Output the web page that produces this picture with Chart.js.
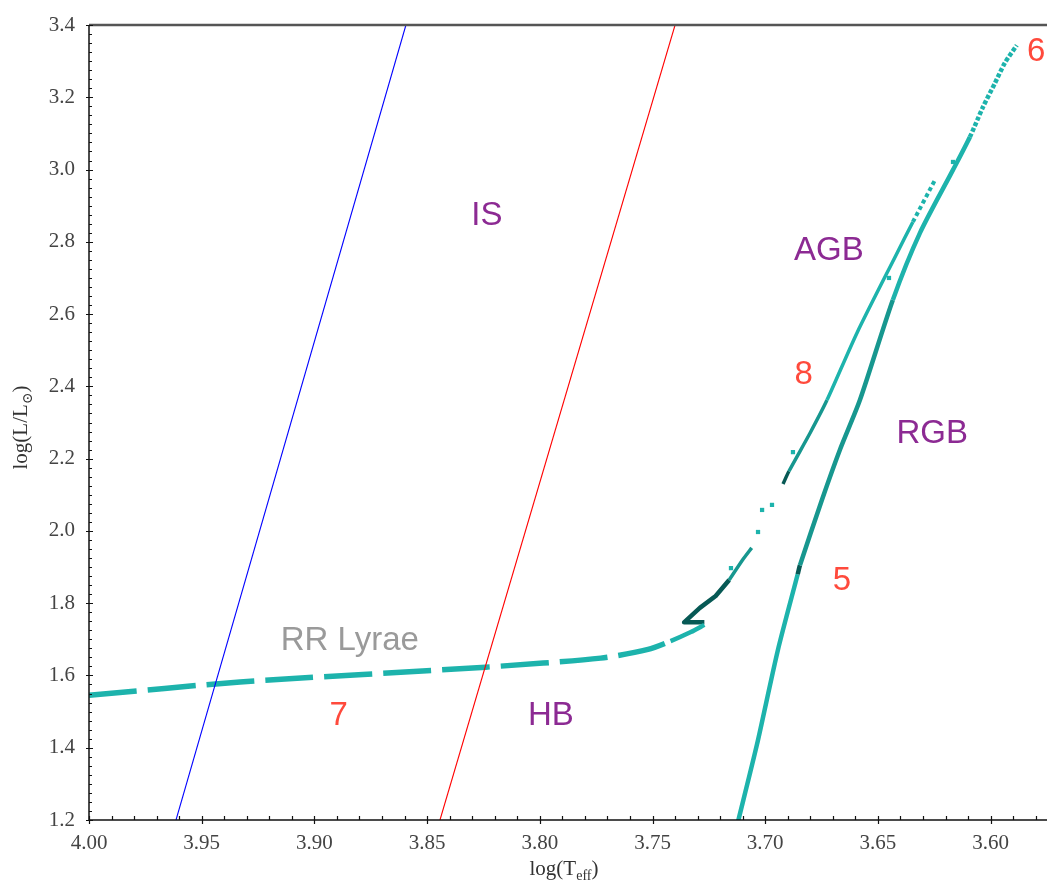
<!DOCTYPE html>
<html>
<head>
<meta charset="utf-8">
<script src="https://cdn.jsdelivr.net/npm/chart.js@4"></script>
<style>
  html, body { margin: 0; padding: 0; background: #fff; }
  canvas { display: block; }
</style>
</head>
<body>
<canvas id="hrd" width="1051" height="884"></canvas>
<script>
// Track pieces as [log(Teff), log(L/Lsun)]
const isBlueEdge = [[3.9614, 1.2], [3.8594, 3.4]];
const isRedEdge  = [[3.8443, 1.2], [3.7400, 3.4]];

const hbDashed = [[4.000, 1.545], [3.933, 1.582], [3.824, 1.623], [3.773, 1.648], [3.752, 1.672]];
const hbSolid  = [[3.742, 1.695], [3.733, 1.720], [3.727, 1.740]];
const hookDark = [[3.727, 1.747], [3.736, 1.747], [3.729, 1.787], [3.722, 1.820], [3.716, 1.864]];
const hookMid  = [[3.716, 1.864], [3.710, 1.920], [3.706, 1.953]];

const agbStart = [[3.6921, 2.130], [3.6895, 2.165]];
const agbLine  = [[3.6801, 2.271], [3.6726, 2.362], [3.6593, 2.548], [3.6420, 2.763]];
const agbDots  = [[3.6345, 2.855], [3.6247, 2.971]];

const rgbLower = [[3.7121, 1.195], [3.7037, 1.408], [3.6944, 1.670], [3.6856, 1.880]];
const rgbKnot  = [[3.6846, 1.905]];
const rgbMid   = [[3.6749, 2.085], [3.6669, 2.224], [3.6580, 2.362], [3.6434, 2.639]];
const rgbUpper = [[3.6314, 2.824], [3.6167, 2.999]];
const rgbTip   = [[3.6092, 3.090], [3.6034, 3.173], [3.5981, 3.239], [3.5937, 3.295], [3.5884, 3.344]];

const strayDots = [[3.7152, 1.897], [3.7032, 1.997], [3.7014, 2.058], [3.6970, 2.072], [3.6877, 2.218], [3.6451, 2.700], [3.6167, 3.021]];

// Labels: text, log(Teff), log(L), kind
const labelText = ['IS', 'AGB', 'RGB', 'HB', 'RR Lyrae', '5', '6', '7', '8'];
const labelT    = [3.8235, 3.6718, 3.6259, 3.7951, 3.8843, 3.6660, 3.5798, 3.8892, 3.6829];
const labelL    = [2.8796, 2.7827, 2.2764, 1.4961, 1.7036, 1.8696, 3.3334, 1.4961, 2.4396];
const labelKind = ['phase', 'phase', 'phase', 'phase', 'star', 'num', 'num', 'num', 'num'];

const TEAL = '#1db3ac';
const TEAL_MID = '#17978f';
const TEAL_DARK = '#075955';
const kindColor = { phase: '#8c2a93', star: '#9a9a9a', num: '#ff4a3c' };

function pts(arr) { return arr.map(p => ({ x: p[0], y: p[1] })); }

function track(arr, color, width, opts) {
  return Object.assign({
    data: pts(arr),
    showLine: true,
    borderColor: color,
    backgroundColor: color,
    borderWidth: width,
    borderCapStyle: 'butt',
    borderJoinStyle: 'round',
    pointRadius: 0,
    tension: 0.25
  }, opts || {});
}

// style a segment by the luminosity/temperature of its first point
const hbTrack  = hbDashed.concat(hbSolid);
const agbTrack = agbStart.concat(agbLine, agbDots);
const rgbTrack = rgbLower.concat(rgbKnot, rgbMid, rgbUpper, rgbTip);

const datasets = [
  track(isBlueEdge, '#0000ff', 1.1, { tension: 0 }),
  track(isRedEdge, '#ff0000', 1.1, { tension: 0 }),
  track(hbTrack, TEAL, 5.5, {
    segment: {
      borderDash: c => c.p0.parsed.x > 3.751 ? [48, 11] : undefined,
      borderWidth: c => c.p0.parsed.x > 3.751 ? 5.5 : 4.5
    }
  }),
  track(hookDark, TEAL_DARK, 4.5, { tension: 0 }),
  track(hookMid, TEAL_MID, 3.5, { tension: 0.2 }),
  track(agbTrack, TEAL, 3.5, {
    segment: {
      borderColor: c => c.p0.parsed.y < 2.16 ? TEAL_DARK : (c.p0.parsed.y < 2.3 ? TEAL_MID : TEAL),
      borderDash: c => c.p0.parsed.y > 2.8 ? [4, 3] : undefined,
      borderWidth: c => c.p0.parsed.y > 2.8 ? 4 : 3.5
    }
  }),
  track(rgbTrack, TEAL, 4.5, {
    segment: {
      borderColor: c => {
        const v = c.p0.parsed.y;
        if (v >= 1.875 && v < 1.9) return TEAL_DARK;
        if (v >= 1.9 && v < 2.6) return TEAL_MID;
        return TEAL;
      },
      borderDash: c => c.p0.parsed.y > 3.0 ? [4, 2] : undefined
    }
  }),
  {
    data: pts(strayDots),
    showLine: false,
    pointStyle: 'rect',
    pointRadius: 3,
    borderWidth: 0,
    backgroundColor: TEAL
  }
];

const frame = {
  id: 'frame',
  afterDraw(chart) {
    const { ctx, chartArea: a, scales: { x, y } } = chart;
    ctx.save();
    ctx.strokeStyle = '#555';
    ctx.lineWidth = 2.5;
    ctx.beginPath(); ctx.moveTo(a.left, a.top); ctx.lineTo(a.right, a.top); ctx.stroke();

    ctx.strokeStyle = '#111';
    ctx.lineWidth = 1.5;
    ctx.beginPath();
    ctx.moveTo(a.left, a.top); ctx.lineTo(a.left, a.bottom); ctx.lineTo(a.right, a.bottom);
    ctx.stroke();

    // inward ticks, majors cross the axis
    ctx.lineWidth = 1.2;
    ctx.beginPath();
    for (let i = 0; i <= 88; i++) {
      const py = Math.round(y.getPixelForValue(1.2 + i * 0.025)) + 0.5;
      const major = i % 8 === 0;
      ctx.moveTo(a.left - (major ? 3 : 0), py);
      ctx.lineTo(a.left + (major ? 4 : 3), py);
    }
    for (let i = 0; i <= 42; i++) {
      const px = Math.round(x.getPixelForValue(3.58 + i * 0.01)) + 0.5;
      const major = (42 - i) % 5 === 0;
      ctx.moveTo(px, a.bottom + (major ? 4 : 0));
      ctx.lineTo(px, a.bottom - 4);
    }
    ctx.stroke();

    // in-plot labels
    ctx.font = '33px "Liberation Sans", Arial, sans-serif';
    ctx.textAlign = 'center';
    ctx.textBaseline = 'alphabetic';
    labelText.forEach((t, i) => {
      ctx.fillStyle = kindColor[labelKind[i]];
      ctx.fillText(t, x.getPixelForValue(labelT[i]), y.getPixelForValue(labelL[i]) + 12);
    });

    // axis titles with subscripts
    const big = '21px "Liberation Serif", "DejaVu Serif", serif';
    const small = '14px "Liberation Serif", "DejaVu Serif", serif';
    function drawSub(parts, cx, base) {
      let total = 0;
      parts.forEach(p => { ctx.font = p[1] ? small : big; total += ctx.measureText(p[0]).width; });
      let cur = cx - total / 2;
      ctx.textAlign = 'left';
      parts.forEach(p => {
        ctx.font = p[1] ? small : big;
        ctx.fillText(p[0], cur, base + (p[1] ? 5 : 0));
        cur += ctx.measureText(p[0]).width;
      });
    }
    ctx.fillStyle = '#333';
    drawSub([['log(T', false], ['eff', true], [')', false]], (a.left + a.right) / 2 - 4, 875);
    ctx.save();
    ctx.translate(27, (a.top + a.bottom) / 2 + 5);
    ctx.rotate(-Math.PI / 2);
    drawSub([['log(L/L', false], ['\u2299', true], [')', false]], 0, 0);
    ctx.restore();
    ctx.restore();
  }
};

new Chart(document.getElementById('hrd'), {
  type: 'scatter',
  data: { datasets },
  plugins: [frame],
  options: {
    responsive: false,
    animation: false,
    devicePixelRatio: 1,
    layout: { padding: { top: 25, right: 0, left: 0, bottom: 0 } },
    plugins: { legend: { display: false }, tooltip: { enabled: false } },
    scales: {
      x: {
        type: 'linear',
        reverse: true,
        min: 3.575,
        max: 4.0,
        grid: { display: false },
        border: { display: false },
        afterFit(scale) { scale.height = 64; },
        ticks: {
          stepSize: 0.05,
          includeBounds: false,
          padding: 3,
          color: '#444',
          font: { family: '"Liberation Serif", serif', size: 21 },
          callback: v => v.toFixed(2)
        }
      },
      y: {
        type: 'linear',
        min: 1.2,
        max: 3.4,
        grid: { display: false },
        border: { display: false },
        afterFit(scale) { scale.width = 89; },
        ticks: {
          stepSize: 0.2,
          padding: 6,
          color: '#444',
          font: { family: '"Liberation Serif", serif', size: 21 },
          callback: v => v.toFixed(1)
        }
      }
    }
  }
});
</script>
</body>
</html>
